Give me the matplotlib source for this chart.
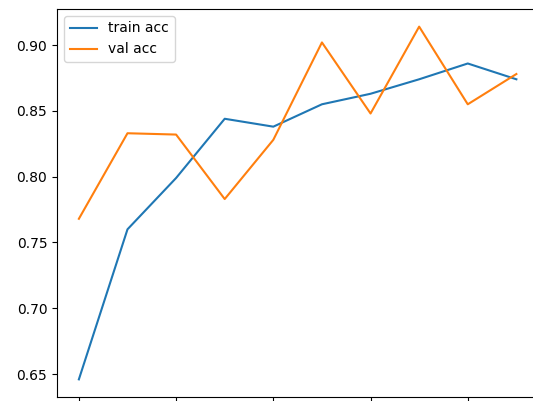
import matplotlib
matplotlib.use("Agg")
import matplotlib.pyplot as plt

epochs = list(range(10))
train_acc = [0.646, 0.760, 0.799, 0.844, 0.838, 0.855, 0.863, 0.874, 0.886, 0.874]
val_acc = [0.768, 0.833, 0.832, 0.783, 0.828, 0.902, 0.848, 0.914, 0.855, 0.878]

fig = plt.figure(figsize=(5.33, 4.01), dpi=100)
# axes runs past the right and bottom edges of the saved image
ax = fig.add_axes([57 / 533, 4 / 401, 490 / 533, 388 / 401])

ax.plot(epochs, train_acc, label='train acc')
ax.plot(epochs, val_acc, label='val acc')
ax.set_xlim(-0.45, 9.63)
ax.legend(loc='upper left')

fig.savefig('out.png', dpi=100)
